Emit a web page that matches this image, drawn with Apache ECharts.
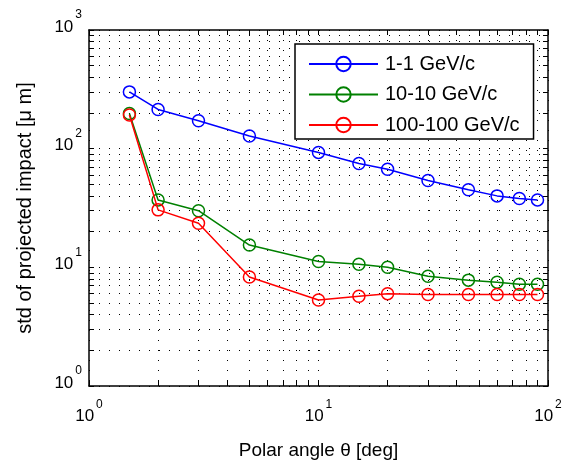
<!DOCTYPE html>
<html><head><meta charset="utf-8">
<script src="https://cdn.jsdelivr.net/npm/echarts@6/dist/echarts.min.js"></script>
<style>html,body{margin:0;padding:0;background:#fff}#c{width:562px;height:460px}</style>
</head><body><div id="c"></div>
<script>
const angles = [1.5, 2, 3, 5, 10, 15, 20, 30, 45, 60, 75, 90];
const std_1GeV = [301, 214, 172, 128, 93, 75, 67, 54, 45, 40, 38, 37];
const std_10GeV = [198, 37, 30, 15.4, 11.2, 10.6, 10.0, 8.4, 7.8, 7.5, 7.2, 7.2];
const std_100GeV = [192, 30.5, 23.5, 8.3, 5.3, 5.7, 6.0, 5.9, 5.9, 5.9, 5.9, 5.9];
const seriesNames = ['1-1 GeV/c', '10-10 GeV/c', '100-100 GeV/c'];
const seriesColors = ['#0000ff', '#008000', '#ff0000'];
const xTicks = [1,2,3,4,5,6,7,8,9,10,20,30,40,50,60,70,80,90,100];
const yTicks = [1,2,3,4,5,6,7,8,9,10,20,30,40,50,60,70,80,90,100,200,300,400,500,600,700,800,900,1000];
const xLabels = [1, 10, 100];
const yLabels = [1, 10, 100, 1000];

const FONT = 'Liberation Sans';
const richY = {
  b: {fontFamily: FONT, fontSize: 17, color: '#000', lineHeight: 17, padding: [10, 0, 0, 0]},
  e: {fontFamily: FONT, fontSize: 12, color: '#000', lineHeight: 13, padding: [0, 0, 14, 2]}
};
const richX = {
  b: {fontFamily: FONT, fontSize: 17, color: '#000', lineHeight: 17, padding: [16, 0, 0, 0]},
  e: {fontFamily: FONT, fontSize: 12, color: '#000', lineHeight: 13, padding: [6, 0, 14, 2]}
};
const fmt = v => '{b|10}{e|' + Math.round(Math.log10(v)) + '}';
const gridLine = {show: true, lineStyle: {color: '#000', width: 1, type: [1, 9]}};
const axisLine = {show: true, onZero: false, lineStyle: {color: '#000', width: 1.5}};

function xAx(pos, main) {
  return {
    type: 'log', logBase: 10, min: 1, max: 100, position: pos,
    axisLine: axisLine,
    axisTick: {show: true, inside: true, length: 5, customValues: xTicks, lineStyle: {color: '#000', width: 1}},
    axisLabel: main ? {show: true, customValues: xLabels, formatter: fmt, rich: richX, margin: 14} : {show: false},
    splitLine: main ? gridLine : {show: false},
    name: main ? 'Polar angle θ [deg]' : '',
    nameLocation: 'middle', nameGap: 55,
    nameTextStyle: {fontFamily: FONT, fontSize: 19, color: '#000'}
  };
}
function yAx(pos, main) {
  return {
    type: 'log', logBase: 10, min: 1, max: 1000, position: pos,
    axisLine: axisLine,
    axisTick: {show: true, inside: true, length: 5, customValues: yTicks, lineStyle: {color: '#000', width: 1}},
    axisLabel: main ? {show: true, customValues: yLabels, formatter: fmt, rich: richY, margin: 7, padding: [0, 0, 16, 0]} : {show: false},
    splitLine: main ? gridLine : {show: false},
    name: main ? 'std of projected impact [μ m]' : '',
    nameLocation: 'middle', nameGap: 54,
    nameTextStyle: {fontFamily: FONT, fontSize: 20, color: '#000'}
  };
}

const allData = [std_1GeV, std_10GeV, std_100GeV];
const chart = echarts.init(document.getElementById('c'), null, {renderer: 'canvas'});
chart.setOption({
  animation: false,
  backgroundColor: '#fff',
  grid: {left: 89, right: 14, top: 30, bottom: 74, containLabel: false, outerBoundsMode: 'none'},
  xAxis: [xAx('bottom', true), xAx('top', false)],
  yAxis: [yAx('left', true), yAx('right', false)],
  legend: {
    orient: 'vertical', left: 295, top: 44,
    itemWidth: 69, itemHeight: 18, itemGap: 10.5,
    padding: [10, 14, 4, 13],
    backgroundColor: '#fff', borderColor: '#000', borderWidth: 1.5,
    textStyle: {fontFamily: FONT, fontSize: 20, color: '#000', padding: [0, 0, 0, 2]},
    data: seriesNames
  },
  series: seriesNames.map((n, k) => ({
    type: 'line', name: n, xAxisIndex: 0, yAxisIndex: 0,
    data: angles.map((a, i) => [a, allData[k][i]]),
    symbol: 'circle', symbolSize: 12,
    itemStyle: {color: 'rgba(0,0,0,0)', borderColor: seriesColors[k], borderWidth: 1.5},
    lineStyle: {color: seriesColors[k], width: 1.5},
    z: 3 + k
  }))
});
</script></body></html>
